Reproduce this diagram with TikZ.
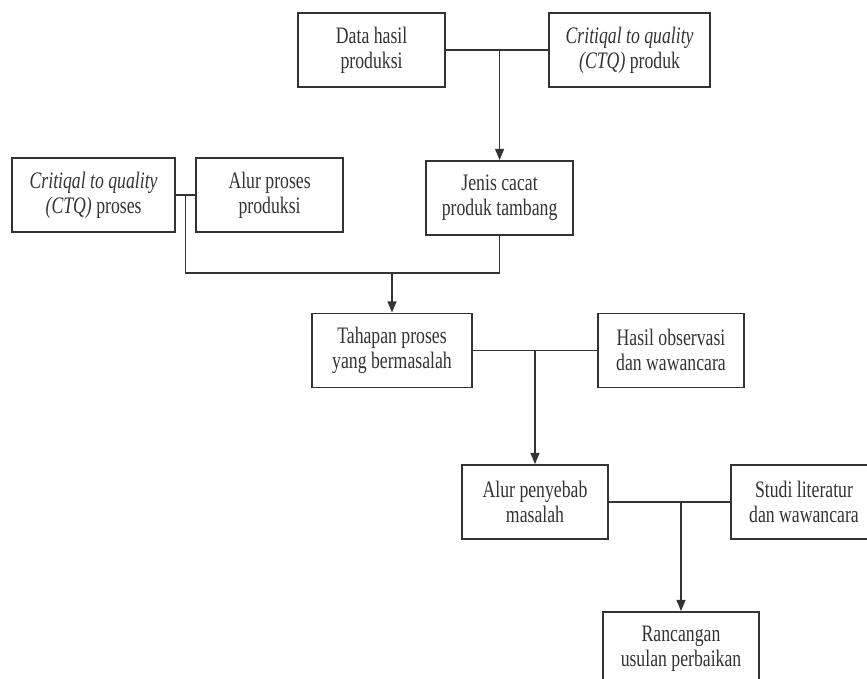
\documentclass[tikz,border=0pt]{standalone}
\usepackage{fontspec}
\setmainfont[FakeStretch=0.75]{Liberation Serif}
\usepackage{tikz}
\usetikzlibrary{arrows.meta, calc}
\tikzstyle{arrow} = [->,>={Triangle[length=2.8mm,width=2.2mm]}]
\tikzstyle{block} = [rectangle, draw, text centered, minimum height=1.85cm, inner sep=0pt]
\tikzset{every node/.style={align=center, font=\fontsize{16.8}{17.8}\selectfont}}

\begin{document}
\begin{tikzpicture}[node distance=3.75cm, line width=1.2pt, black!80]
    \clip (0,0) rectangle (21.675,-16.975);
    \node (data) [block, minimum width=3.675cm] at (9.29,-1.25) {Data hasil\\produksi};
    \node (ctqprod) [block, minimum width=4.025cm, right of=data, xshift=2.7cm] {\textit{Critiqal to quality}\\\textit{(CTQ)} produk};
    \node (jenis) [block, minimum width=3.675cm, below of=data, xshift=3.2cm, yshift=0.05cm] {Jenis cacat\\produk tambang};
    \node (alur) [block, minimum width=3.675cm, left of=jenis, xshift=-2cm, yshift=0.075cm] {Alur proses\\produksi};
    \node (ctqproses) [block, minimum width=4.075cm, left of=alur, xshift=-0.65cm] {\textit{Critiqal to quality}\\\textit{(CTQ)} proses};
    \node (tahapan) [block, minimum width=4cm, below of=jenis, xshift=-2.69cm, yshift=-0.06cm] {Tahapan proses\\yang bermasalah};
    \node (hasil) [block, minimum width=3.65cm, right of=tahapan, xshift=3.225cm] {Hasil observasi\\dan wawancara};
    \node (penyebab) [block, minimum width=3.65cm, below of=tahapan, xshift=3.575cm, yshift=-0.04cm] {Alur penyebab\\masalah};
    \node (studi) [block, minimum width=3.65cm, right of=penyebab, xshift=2.975cm] {Studi literatur\\dan wawancara};
    \node (rancangan) [block, minimum width=3.9cm, below of=penyebab, xshift=3.65cm, yshift=0.075cm] {Rancangan\\usulan perbaikan};

    \draw (data.east) -- (ctqprod.west);
    \draw [arrow] (data.east -| jenis.north) -- (jenis.north);
    \draw (ctqproses.east) -- (alur.west);
    \coordinate (merge) at ([yshift=-0.925cm]jenis.south);
    \draw ($(ctqproses.east)!0.5!(alur.west)$) |- (merge) -- (jenis.south);
    \draw [arrow] (merge -| tahapan.north) -- (tahapan.north);
    \draw (tahapan.east) -- (hasil.west);
    \draw [arrow] (tahapan.east -| penyebab.north) -- (penyebab.north);
    \draw (penyebab.east) -- (studi.west);
    \draw [arrow] (penyebab.east -| rancangan.north) -- (rancangan.north);
\end{tikzpicture}
\end{document}
